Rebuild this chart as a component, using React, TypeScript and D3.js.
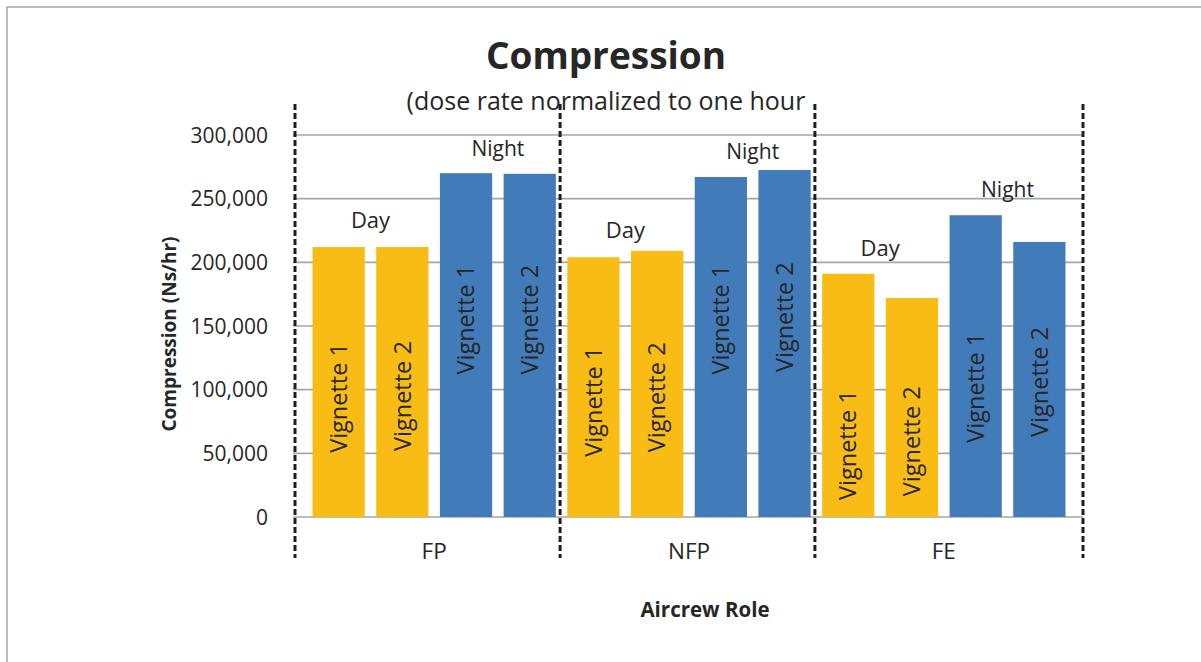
import React from "react";
import * as d3 from "d3";

// ---- data ----
const categories = ["FP", "NFP", "FE"];
const seriesNames = ["Vignette 1", "Vignette 2", "Vignette 1", "Vignette 2"];
const seriesPeriod = ["Day", "Day", "Night", "Night"];
const dayVignette1 = [212000, 204000, 191000];
const dayVignette2 = [212000, 209000, 172000];
const nightVignette1 = [270000, 267000, 237000];
const nightVignette2 = [269500, 272500, 216000];
const yTicks = [0, 50000, 100000, 150000, 200000, 250000, 300000];
// vertical in-bar label centres, in data units
const dayVignette1LabelAt = [93500, 90500, 56500];
const dayVignette2LabelAt = [95000, 94000, 59500];
const nightVignette1LabelAt = [155000, 155000, 101500];
const nightVignette2LabelAt = [155000, 157000, 106000];
// Day / Night annotation baselines, in data units
const dayLabelAt = [227000, 219000, 205000];
const nightLabelAt = [283500, 281000, 251000];

const seriesValues = [dayVignette1, dayVignette2, nightVignette1, nightVignette2];
const seriesLabelAt = [dayVignette1LabelAt, dayVignette2LabelAt, nightVignette1LabelAt, nightVignette2LabelAt];

const W = 1201;
const H = 662;
const FONT = "'Open Sans', sans-serif";
const TEXT = "#262626";
const DAY_COLOR = "#F9BC15";
const NIGHT_COLOR = "#427BB9";

export default function App() {
  const plotL = 295, plotR = 1083, plotT = 135, plotB = 517;
  const bars = categories.flatMap((c, ci) =>
    seriesValues.map((vals, si) => ({
      id: ci * 4 + si,
      cat: c,
      ci,
      si,
      value: vals[ci],
      labelAt: seriesLabelAt[si][ci],
      name: seriesNames[si],
      period: seriesPeriod[si],
    }))
  );
  const x = d3
    .scaleBand<number>()
    .domain(bars.map((b) => b.id))
    .range([plotL, plotR])
    .paddingInner(0.18)
    .paddingOuter(0.275);
  const y = d3.scaleLinear().domain([0, 300000]).range([plotB, plotT]);
  const bw = x.bandwidth();
  const cx = (id: number) => (x(id) as number) + bw / 2;
  const fmt = d3.format(",");

  const separators = [plotL];
  for (let ci = 1; ci < categories.length; ci++) {
    separators.push(((x(ci * 4 - 1) as number) + bw + (x(ci * 4) as number)) / 2 - 1.5);
  }
  separators.push(plotR);

  return (
    <svg
      width={W}
      height={H}
      style={{ position: "absolute", left: 0, top: 0, background: "#fff" }}
      fontFamily={FONT}
    >
      <rect x={0} y={0} width={W} height={H} fill="#fff" />
      <rect x={7} y={7} width={W + 20} height={H + 20} fill="none" stroke="#a6a6a6" strokeWidth={1.5} />

      {/* title */}
      <text x={606} y={69} textAnchor="middle" fontSize={37} fontWeight="bold" fill={TEXT}>
        Compression
      </text>
      <text x={606} y={110} textAnchor="middle" fontSize={25} fill={TEXT}>
        (dose rate normalized to one hour
      </text>

      {/* gridlines */}
      {yTicks.map((t) => (
        <g key={t}>
          <line x1={plotL - 2} x2={plotR} y1={y(t)} y2={y(t)} stroke="#a6a6a6" strokeWidth={1.6} />
          <text x={268} y={y(t)} dy="0.36em" textAnchor="end" fontSize={21} fill={TEXT}>
            {fmt(t)}
          </text>
        </g>
      ))}

      {/* bars */}
      {bars.map((b) => (
        <rect
          key={b.id}
          x={x(b.id)}
          y={y(b.value)}
          width={bw}
          height={y(0) - y(b.value)}
          fill={b.period === "Day" ? DAY_COLOR : NIGHT_COLOR}
        />
      ))}

      {/* vertical labels in bars */}
      {bars.map((b) => (
        <text
          key={"l" + b.id}
          transform={`translate(${cx(b.id)},${y(b.labelAt)}) rotate(-90)`}
          dy="0.35em"
          textAnchor="middle"
          fontSize={23.5}
          fill={TEXT}
        >
          {b.name}
        </text>
      ))}

      {/* Day / Night annotations */}
      {categories.map((c, ci) => (
        <g key={"a" + c}>
          <text x={(cx(ci * 4) + cx(ci * 4 + 1)) / 2} y={y(dayLabelAt[ci])} textAnchor="middle" fontSize={22} fill={TEXT}>
            Day
          </text>
          <text x={(cx(ci * 4 + 2) + cx(ci * 4 + 3)) / 2} y={y(nightLabelAt[ci])} textAnchor="middle" fontSize={21} fill={TEXT}>
            Night
          </text>
          <text x={(cx(ci * 4 + 1) + cx(ci * 4 + 2)) / 2} y={559} textAnchor="middle" fontSize={22.5} fill={TEXT}>
            {c}
          </text>
        </g>
      ))}

      {/* dashed separators */}
      {separators.map((sx, i) => (
        <line key={"s" + i} x1={sx} x2={sx} y1={104} y2={558} stroke="#1f1f1f" strokeWidth={3} strokeDasharray="6,3" />
      ))}

      {/* axis titles */}
      <text x={705} y={617} textAnchor="middle" fontSize={20.5} fontWeight="bold" fill={TEXT}>
        Aircrew Role
      </text>
      <text
        transform={`translate(176,334) rotate(-90)`}
        textAnchor="middle"
        fontSize={19}
        fontWeight="bold"
        fill={TEXT}
      >
        Compression (Ns/hr)
      </text>
    </svg>
  );
}
